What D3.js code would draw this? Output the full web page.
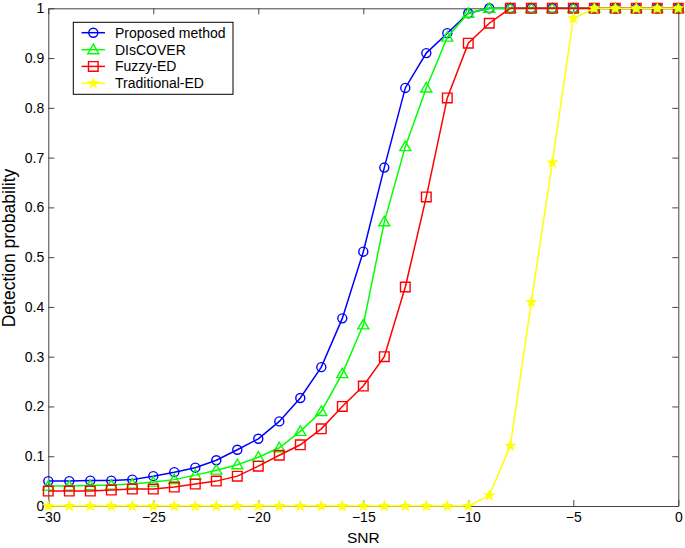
<!DOCTYPE html>
<html>
<head>
<meta charset="utf-8">
<script src="https://cdn.jsdelivr.net/npm/d3@7"></script>
<style>
  body { margin: 0; background: #fff; }
  text { font-family: "Liberation Sans", Arial, Helvetica, sans-serif; fill: #000; }
</style>
</head>
<body>
<div id="chart"></div>
<script>
// SNR values -30 .. 0
const snr = [-30,-29,-28,-27,-26,-25,-24,-23,-22,-21,-20,-19,-18,-17,-16,-15,-14,-13,-12,-11,-10,-9,-8,-7,-6,-5,-4,-3,-2,-1,0];

const proposed = [0.05,0.05,0.051,0.051,0.053,0.06,0.068,0.077,0.092,0.113,0.135,0.17,0.217,0.279,0.377,0.511,0.68,0.84,0.91,0.95,0.99,1,1,1,1,1,1,1,1,1,1];
const discover = [0.04,0.04,0.041,0.042,0.044,0.048,0.053,0.062,0.072,0.083,0.098,0.117,0.15,0.19,0.266,0.364,0.571,0.722,0.84,0.942,0.99,1,1,1,1,1,1,1,1,1,1];
const fuzzyED = [0.03,0.03,0.03,0.032,0.034,0.034,0.038,0.044,0.05,0.06,0.08,0.102,0.123,0.155,0.2,0.241,0.3,0.44,0.621,0.82,0.93,0.97,1,1,1,1,1,1,1,1,1];
const traditionalED = [0,0,0,0,0,0,0,0,0,0,0,0,0,0,0,0,0,0,0,0,0,0.021,0.121,0.41,0.69,0.98,1,1,1,1,1];

const seriesNames = ["Proposed method", "DIsCOVER", "Fuzzy-ED", "Traditional-ED"];
const seriesColors = ["#0000ff", "#00ff00", "#ff0000", "#ffff00"];
const seriesMarkers = ["circle", "triangle", "square", "star"];
const seriesData = [proposed, discover, fuzzyED, traditionalED];

const xTicks = [-30,-25,-20,-15,-10,-5,0];
const yTicks = [0,0.1,0.2,0.3,0.4,0.5,0.6,0.7,0.8,0.9,1];

const W = 685, H = 548;
const plotLeft = 48.3, plotRight = 678.3, plotTop = 8.3, plotBottom = 506;

const svg = d3.select("#chart").append("svg")
    .attr("width", W)
    .attr("height", H);

const x = d3.scaleLinear().domain([-30, 0]).range([plotLeft, plotRight]);
const y = d3.scaleLinear().domain([0, 1]).range([plotBottom, plotTop]);

// axes box with inward ticks
const axisColor = "#444";
const tickLen = 6;

function styleAxis(g) {
    g.select(".domain").attr("stroke", axisColor).attr("stroke-width", 1);
    g.selectAll(".tick line").attr("stroke", axisColor).attr("stroke-width", 1);
    g.selectAll("text")
        .style("font-size", "14px")
        .style("font-family", "Liberation Sans, Arial, sans-serif");
}

svg.append("g")
    .attr("transform", `translate(0,${plotBottom})`)
    .call(d3.axisBottom(x).tickValues(xTicks).tickSize(-tickLen).tickSizeOuter(0).tickPadding(6).tickFormat(d3.format("d")))
    .call(styleAxis);

svg.append("g")
    .attr("transform", `translate(0,${plotTop})`)
    .call(d3.axisTop(x).tickValues(xTicks).tickSize(-tickLen).tickSizeOuter(0).tickFormat(""))
    .call(styleAxis);

svg.append("g")
    .attr("transform", `translate(${plotLeft},0)`)
    .call(d3.axisLeft(y).tickValues(yTicks).tickSize(-tickLen).tickSizeOuter(0).tickPadding(4).tickFormat(d => d === 0 ? "0" : d === 1 ? "1" : d3.format(".1f")(d)))
    .call(styleAxis);

svg.append("g")
    .attr("transform", `translate(${plotRight},0)`)
    .call(d3.axisRight(y).tickValues(yTicks).tickSize(-tickLen).tickSizeOuter(0).tickFormat(""))
    .call(styleAxis);

// axis labels
svg.append("text")
    .attr("x", (plotLeft + plotRight) / 2)
    .attr("y", 543)
    .attr("text-anchor", "middle")
    .style("font-size", "15.5px")
    .text("SNR");

svg.append("text")
    .attr("transform", `translate(15,248) rotate(-90)`)
    .attr("text-anchor", "middle")
    .style("font-size", "17.5px")
    .text("Detection probability");

// marker shapes
function markerPath(type) {
    if (type === "circle") return d3.symbol(d3.symbolCircle, 64)();
    if (type === "triangle") return "M0,-5.5L5.5,4L-5.5,4Z";
    if (type === "square") return "M-4.8,-4.8H4.8V4.8H-4.8Z";
    return d3.symbol(d3.symbolStar, 20)();
}

const line = d3.line()
    .x((d, i) => x(snr[i]))
    .y(d => y(d));

seriesData.forEach((vals, k) => {
    const g = svg.append("g");
    g.append("path")
        .datum(vals)
        .attr("fill", "none")
        .attr("stroke", seriesColors[k])
        .attr("stroke-width", 1.5)
        .attr("d", line);
    const filled = seriesMarkers[k] === "star";
    g.selectAll("path.m")
        .data(vals)
        .join("path")
        .attr("class", "m")
        .attr("transform", (d, i) => `translate(${x(snr[i])},${y(d)})`)
        .attr("d", markerPath(seriesMarkers[k]))
        .attr("fill", filled ? seriesColors[k] : "none")
        .attr("stroke", seriesColors[k])
        .attr("stroke-width", filled ? 1.5 : 1.4);
});

// legend
const lg = svg.append("g");
lg.append("rect")
    .attr("x", 73.3).attr("y", 22.3)
    .attr("width", 159.7).attr("height", 72)
    .attr("fill", "#fff")
    .attr("stroke", "#000")
    .attr("stroke-width", 1);

const rowY = [32.7, 49.7, 66.4, 83.3];
seriesNames.forEach((name, k) => {
    lg.append("line")
        .attr("x1", 81.5).attr("x2", 105)
        .attr("y1", rowY[k]).attr("y2", rowY[k])
        .attr("stroke", seriesColors[k])
        .attr("stroke-width", 1.5);
    const filled = seriesMarkers[k] === "star";
    lg.append("path")
        .attr("transform", `translate(93.3,${rowY[k]})`)
        .attr("d", markerPath(seriesMarkers[k]))
        .attr("fill", filled ? seriesColors[k] : "none")
        .attr("stroke", seriesColors[k])
        .attr("stroke-width", filled ? 1.5 : 1.4);
    lg.append("text")
        .attr("x", 115)
        .attr("y", rowY[k] + 5)
        .style("font-size", "14px")
        .text(name);
});
</script>
</body>
</html>
